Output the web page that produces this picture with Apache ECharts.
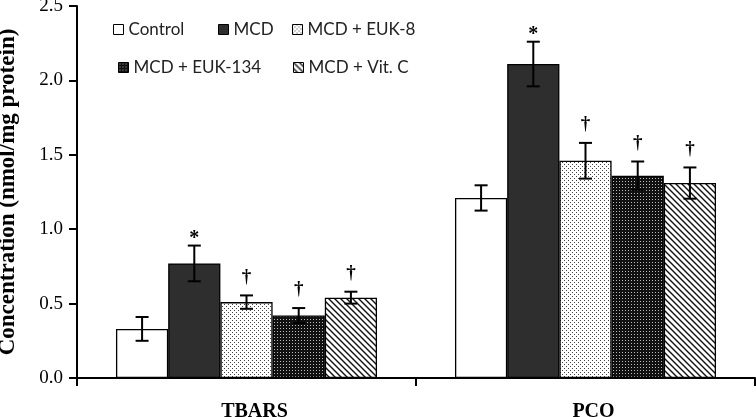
<!DOCTYPE html>
<html><head><meta charset="utf-8">
<script src="https://cdn.jsdelivr.net/npm/echarts@6/dist/echarts.min.js"></script>
<style>html,body{margin:0;padding:0;background:#fff}#c{width:756px;height:417px}</style>
</head><body><div id="c"></div>
<script>
const categories = ['TBARS', 'PCO'];
const seriesNames = ['Control', 'MCD', 'MCD + EUK-8', 'MCD + EUK-134', 'MCD + Vit. C'];
const controlVals = [0.33, 1.21];
const mcdVals = [0.77, 2.11];
const euk8Vals = [0.51, 1.46];
const euk134Vals = [0.42, 1.36];
const vitcVals = [0.54, 1.31];
const controlErr = [0.08, 0.085];
const mcdErr = [0.12, 0.15];
const euk8Err = [0.045, 0.12];
const euk134Err = [0.05, 0.095];
const vitcErr = [0.04, 0.105];
const controlMarks = ['', ''];
const mcdMarks = ['*', '*'];
const euk8Marks = ['\u2020', '\u2020'];
const euk134Marks = ['\u2020', '\u2020'];
const vitcMarks = ['\u2020', '\u2020'];
const yMin = 0, yMax = 2.5, yInterval = 0.5;

const allVals = [controlVals, mcdVals, euk8Vals, euk134Vals, vitcVals];
const allErr = [controlErr, mcdErr, euk8Err, euk134Err, vitcErr];
const allMarks = [controlMarks, mcdMarks, euk8Marks, euk134Marks, vitcMarks];

function pat(w, h, draw) {
  const c = document.createElement('canvas');
  c.width = w; c.height = h;
  const ctx = c.getContext('2d');
  draw(ctx);
  return { image: c, repeat: 'repeat' };
}
const lightDots = pat(4, 4, ctx => {
  ctx.fillStyle = '#fff'; ctx.fillRect(0, 0, 4, 4);
  ctx.fillStyle = '#444'; ctx.fillRect(0, 0, 1, 1); ctx.fillRect(2, 2, 1, 1);
});
const darkDots = pat(3, 3, ctx => {
  ctx.fillStyle = '#111'; ctx.fillRect(0, 0, 3, 3);
  ctx.fillStyle = '#bbb'; ctx.fillRect(1, 1, 1, 1);
});
const diag = pat(6, 6, ctx => {
  ctx.fillStyle = '#fff'; ctx.fillRect(0, 0, 6, 6);
  ctx.strokeStyle = '#111'; ctx.lineWidth = 1.4;
  ctx.beginPath();
  ctx.moveTo(-1, -1); ctx.lineTo(7, 7);
  ctx.moveTo(-1, 5); ctx.lineTo(1, 7);
  ctx.moveTo(5, -1); ctx.lineTo(7, 1);
  ctx.stroke();
});
const fills = ['#ffffff', '#2e2e2e', lightDots, darkDots, diag];

const gapRatio = 0.23;
const series = seriesNames.map((n, i) => ({
  name: n, type: 'bar', data: allVals[i],
  barGap: '0%', barCategoryGap: (gapRatio * 100) + '%',
  itemStyle: { color: fills[i], borderColor: '#000', borderWidth: 1.3 }
}));

const errData = [], errMarks = [];
allVals.forEach((vals, si) => vals.forEach((v, ci) => {
  errData.push([ci, v, allErr[si][ci], si]);
  errMarks.push(allMarks[si][ci]);
}));

series.push({
  type: 'custom', name: 'err', z: 10, silent: true,
  data: errData, encode: { x: 0, y: 1 },
  renderItem: function (params, api) {
    const cat = api.value(0), val = api.value(1), err = api.value(2), si = api.value(3);
    const bandW = api.size([1, 0])[0];
    const groupW = bandW * (1 - gapRatio);
    const bw = groupW / seriesNames.length;
    const base = api.coord([cat, val]);
    const cx = base[0] - groupW / 2 + bw * (si + 0.5);
    const top = api.coord([cat, val + err])[1];
    const bot = api.coord([cat, val - err])[1];
    const hw = 6.5;
    const st = { stroke: '#000', lineWidth: 2 };
    const mark = errMarks[params.dataIndex];
    const children = [
      { type: 'line', shape: { x1: cx, y1: top, x2: cx, y2: bot }, style: st },
      { type: 'line', shape: { x1: cx - hw, y1: top, x2: cx + hw, y2: top }, style: st },
      { type: 'line', shape: { x1: cx - hw, y1: bot, x2: cx + hw, y2: bot }, style: st }
    ];
    if (mark) {
      const isStar = mark === '*';
      children.push({
        type: 'text',
        style: {
          text: mark, x: cx, y: isStar ? top + 3 : top - 9,
          align: 'center', verticalAlign: 'bottom',
          font: isStar ? 'bold 20px "Liberation Serif"' : 'bold 19px "Liberation Serif"',
          fill: '#000'
        }
      });
    }
    return { type: 'group', children: children };
  }
});

const legendPos = [[108, 16], [213, 16], [287, 16], [113, 54], [288, 54]];
const legends = seriesNames.map((n, i) => ({
  data: [n], left: legendPos[i][0], top: legendPos[i][1],
  itemWidth: 10, itemHeight: 10, itemGap: 0,
  icon: 'rect',
  itemStyle: { borderColor: '#000', borderWidth: 1 },
  textStyle: { fontFamily: 'Lato', fontSize: 17, color: '#222' },
  selectedMode: false
}));

const chart = echarts.init(document.getElementById('c'), null, { renderer: 'canvas' });
chart.setOption({
  animation: false,
  backgroundColor: '#fff',
  legend: legends,
  grid: { left: 77, right: 1, top: 6, bottom: 39, containLabel: false, outerBoundsMode: 'none' },
  xAxis: {
    type: 'category', data: categories,
    axisLine: { lineStyle: { color: '#000', width: 2 } },
    axisTick: { show: true, length: 8, lineStyle: { color: '#000', width: 2 } },
    axisLabel: { margin: 24, padding: [0, 0, 0, 16], fontFamily: 'Liberation Serif', fontWeight: 'bold', fontSize: 20, color: '#000' }
  },
  yAxis: {
    type: 'value', min: yMin, max: yMax, interval: yInterval,
    name: 'Concentration (nmol/mg protein)', nameLocation: 'middle', nameGap: 57,
    nameTextStyle: { fontFamily: 'Liberation Serif', fontWeight: 'bold', fontSize: 23, color: '#000' },
    axisLine: { show: true, lineStyle: { color: '#000', width: 2 } },
    axisTick: { show: true, length: 8, lineStyle: { color: '#000', width: 2 } },
    splitLine: { show: false },
    axisLabel: { margin: 14, fontFamily: 'Liberation Serif', fontSize: 19, color: '#000',
      formatter: v => v.toFixed(1) }
  },
  series: series
});
</script></body></html>
